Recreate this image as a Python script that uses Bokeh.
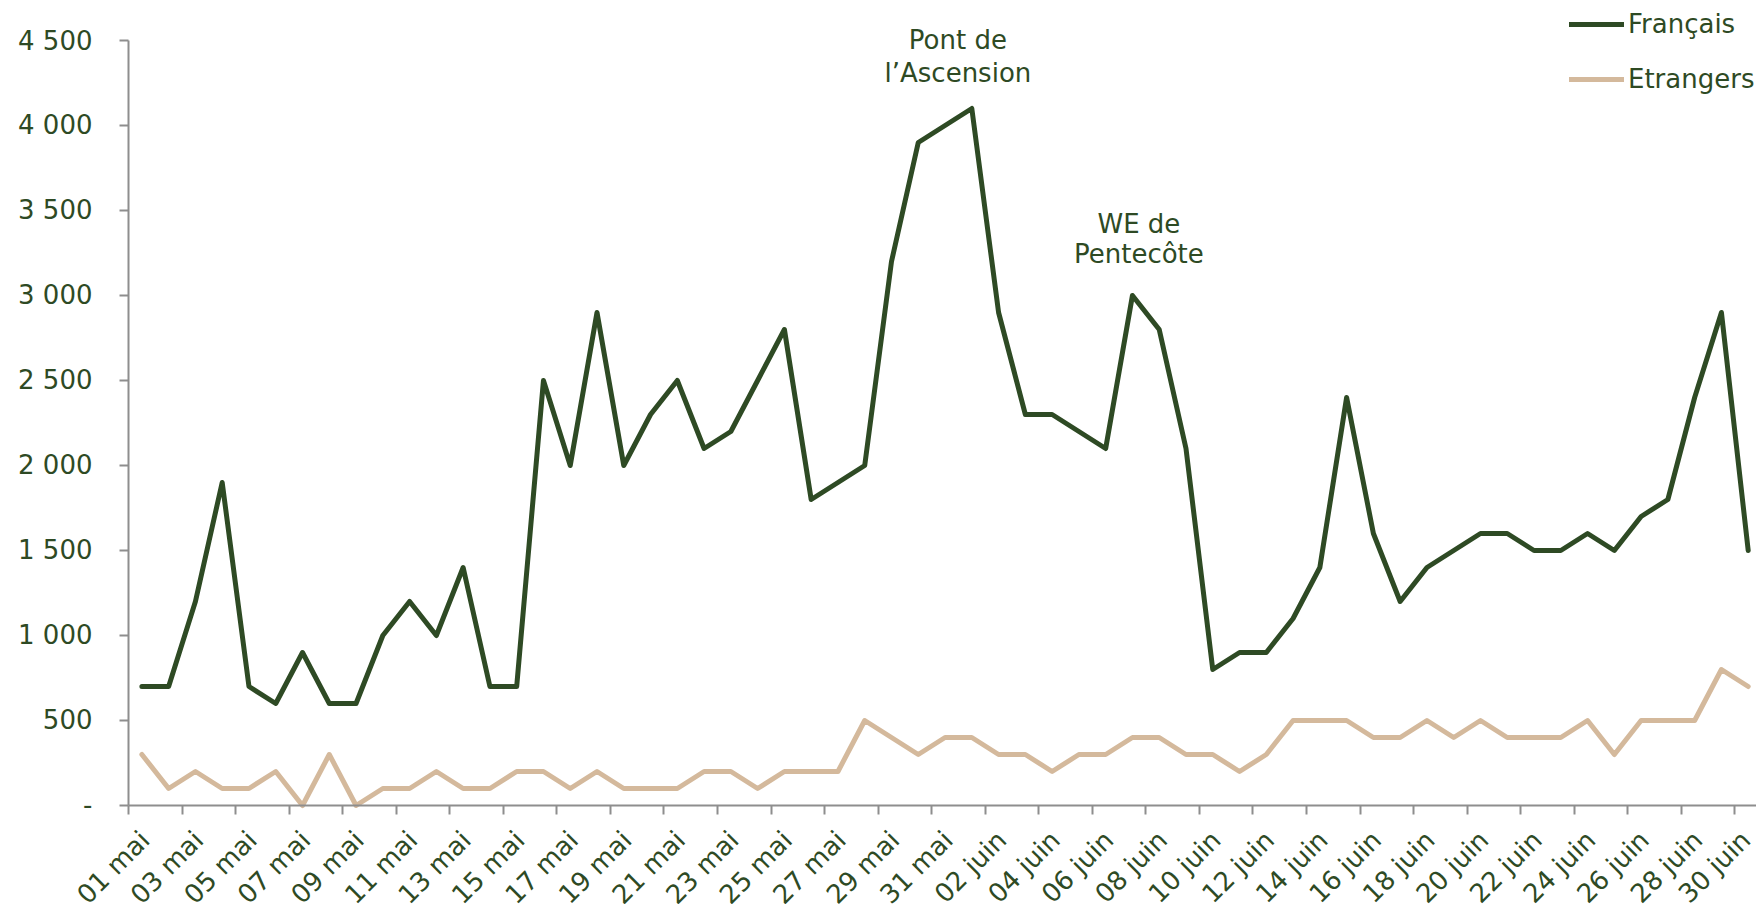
import math
from bokeh.plotting import figure
from bokeh.models import Range1d, FixedTicker, Legend, LegendItem
from bokeh.core.properties import value
from bokeh.embed import file_html
from bokeh.resources import INLINE

# ---------------- data ----------------
days = [f"{d:02d} mai" for d in range(1, 32)] + [f"{d:02d} juin" for d in range(1, 31)]

francais = [700, 700, 1200, 1900, 700, 600, 900, 600, 600, 1000,
            1200, 1000, 1400, 700, 700, 2500, 2000, 2900, 2000, 2300,
            2500, 2100, 2200, 2500, 2800, 1800, 1900, 2000, 3200, 3900,
            4000,
            4100, 2900, 2300, 2300, 2200, 2100, 3000, 2800, 2100, 800,
            900, 900, 1100, 1400, 2400, 1600, 1200, 1400, 1500, 1600,
            1600, 1500, 1500, 1600, 1500, 1700, 1800, 2400, 2900, 1500]

etrangers = [300, 100, 200, 100, 100, 200, 0, 300, 0, 100,
             100, 200, 100, 100, 200, 200, 100, 200, 100, 100,
             100, 200, 200, 100, 200, 200, 200, 500, 400, 300,
             400,
             400, 300, 300, 200, 300, 300, 400, 400, 300, 300,
             200, 300, 500, 500, 500, 400, 400, 500, 400, 500,
             400, 400, 400, 500, 300, 500, 500, 500, 800, 700]

series_names = ["Français", "Etrangers"]

y_ticks = [0, 500, 1000, 1500, 2000, 2500, 3000, 3500, 4000, 4500]
y_tick_labels = ["-", "500", "1 000", "1 500", "2 000", "2 500", "3 000", "3 500", "4 000", "4 500"]

annotation_lines = ["Pont de", "l\u2019Ascension", "WE de", "Pentec\u00f4te"]

# ---------------- style ----------------
GREEN = "#2E4A24"
TAN = "#D4B99C"
GRAY = "#8E8E8E"
FONT = "DejaVu Sans"
FS = "26px"
LABEL_SHIFT = 0.12  # small horizontal nudge of the rotated category labels

x = list(range(len(days)))
label_idx = list(range(0, len(days), 2))

# The frame covers the whole canvas; both axes are pinned (x at y = 0,
# y at the left category boundary) so their labels sit inside it.
p = figure(width=1756, height=904,
           x_range=Range1d(-5.281, 60.31), y_range=Range1d(-582.4, 4735.3),
           output_backend="svg", toolbar_location=None,
           min_border_left=0, min_border_right=0,
           min_border_top=0, min_border_bottom=0,
           outline_line_color=None, background_fill_color="white",
           border_fill_color="white")
p.xgrid.visible = False
p.ygrid.visible = False

r_fr = p.line(x, francais, line_color=GREEN, line_width=5,
              line_join="round", line_cap="round")
r_et = p.line(x, etrangers, line_color=TAN, line_width=5,
              line_join="round", line_cap="round")

# x axis at y = 0: boundary ticks every two categories, labels centred on categories
xa = p.xaxis[0]
xa.fixed_location = 0
xa.bounds = (-0.5, 61)
xa.ticker = FixedTicker(ticks=[i + LABEL_SHIFT for i in label_idx],
                        minor_ticks=[i - 0.5 for i in label_idx])
xa.major_label_overrides = {i + LABEL_SHIFT: days[i] for i in label_idx}
xa.major_tick_out = 0
xa.major_tick_in = 0
xa.minor_tick_out = 9
xa.minor_tick_in = 0
xa.minor_tick_line_color = GRAY
xa.minor_tick_line_width = 2
xa.axis_line_color = GRAY
xa.axis_line_width = 2
xa.major_label_orientation = math.pi / 4
xa.major_label_standoff = 21
xa.major_label_text_font = FONT
xa.major_label_text_font_size = FS
xa.major_label_text_color = GREEN

# y axis at the left boundary of the first category
ya = p.yaxis[0]
ya.fixed_location = -0.5
ya.ticker = FixedTicker(ticks=y_ticks)
ya.major_label_overrides = {t: l for t, l in zip(y_ticks, y_tick_labels)}
ya.bounds = (0, 4500)
ya.major_tick_out = 9
ya.major_tick_in = 0
ya.minor_tick_out = 0
ya.minor_tick_in = 0
ya.major_tick_line_color = GRAY
ya.major_tick_line_width = 2
ya.axis_line_color = GRAY
ya.axis_line_width = 2
ya.major_label_standoff = 27
ya.major_label_text_font = FONT
ya.major_label_text_font_size = FS
ya.major_label_text_color = GREEN

# annotations (one text per line)
p.text(x=[30.48, 30.48, 37.24, 37.24], y=[4501, 4307, 3422, 3242],
       text=annotation_lines,
       text_font=value(FONT), text_font_size=FS, text_color=GREEN,
       text_align="center", text_baseline="alphabetic")

# legend
legend = Legend(items=[LegendItem(label=series_names[0], renderers=[r_fr]),
                       LegendItem(label=series_names[1], renderers=[r_et])],
                location=(1569, 810), orientation="vertical",
                glyph_width=55, glyph_height=30, label_height=30,
                label_standoff=4, spacing=25, padding=0, margin=0,
                border_line_color=None, background_fill_alpha=0,
                label_text_font=FONT, label_text_font_size=FS,
                label_text_color=GREEN, label_text_baseline="middle")
p.add_layout(legend, "center")

open("out.html", "w").write(file_html(p, INLINE))
